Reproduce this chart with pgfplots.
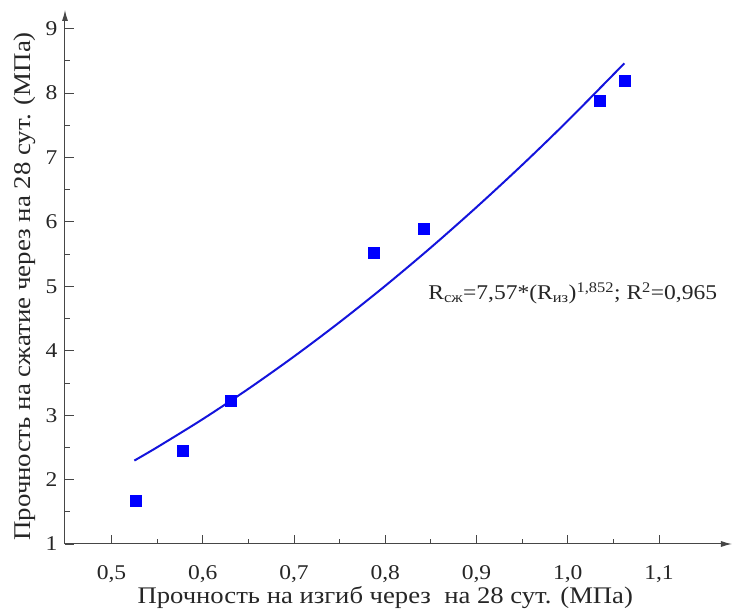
\documentclass[border=0pt]{standalone}
\usepackage{fontspec}
\setmainfont{Liberation Serif}[FakeStretch=1.12]
\usepackage{pgfplots}
\pgfplotsset{compat=1.18}
\usetikzlibrary{arrows.meta}

\definecolor{ptblue}{RGB}{0,0,255}
\definecolor{fitblue}{RGB}{20,20,220}
\definecolor{axgray}{RGB}{70,70,70}

\begin{document}
\begin{tikzpicture}
% page = 732 x 613, axis origin at image pixel (65,544)
\path[use as bounding box] (-65pt,-69pt) rectangle (667pt,544pt);
\begin{axis}[
    at={(0pt,0pt)}, anchor=origin,
    scale only axis,
    width=667pt, height=534pt,
    xmin=0.449, xmax=1.18,
    ymin=1, ymax=9.29,
    axis lines=left,
    axis line style={axgray, line width=1pt, -{Latex[length=11pt,width=6pt]}},
    tick align=inside,
    major tick length=9pt,
    minor tick length=5pt,
    tick style={axgray, line width=0.9pt},
    xtick={0.5,0.6,...,1.1},
    ytick={1,2,...,9},
    minor x tick num=1,
    minor y tick num=1,
    /pgf/number format/assume math mode=true,
    /pgf/number format/use comma,
    xticklabel style={/pgf/number format/fixed, /pgf/number format/fixed zerofill, /pgf/number format/precision=1, yshift=-18pt},
    yticklabel style={xshift=-4pt},
    tick label style={font=\fontsize{21}{21}\selectfont, text=black!85},
    clip=false,
]
\addplot[only marks, mark=square*, mark size=5.5pt, mark options={draw=ptblue, fill=ptblue}] coordinates {
    (0.526, 1.67)
    (0.578, 2.45)
    (0.631, 3.22)
    (0.787, 5.52)
    (0.842, 5.90)
    (1.035, 7.88)
    (1.062, 8.20)
};
\addplot[fitblue, line width=2pt, smooth] coordinates {
    (0.525, 2.295)
    (0.55, 2.502)
    (0.60, 2.939)
    (0.65, 3.409)
    (0.70, 3.911)
    (0.75, 4.444)
    (0.80, 5.008)
    (0.85, 5.603)
    (0.90, 6.229)
    (0.95, 6.884)
    (1.00, 7.570)
    (1.062, 8.462)
};
\node[anchor=base west, font=\fontsize{21}{21}\selectfont, text=black!85, inner sep=0pt] at (axis cs:0.847,4.79)
    {R\textsubscript{сж}=7,57*(R\textsubscript{из})\textsuperscript{1,852}; R\textsuperscript{2}=0,965};
\node[font=\fontsize{23.8}{24}\selectfont, text=black!85] at ([yshift=-54pt]axis cs:0.80,1)
    {Прочность на изгиб через\ \ на 28 сут. (МПа)};
\node[font=\fontsize{24}{24}\selectfont, text=black!85, rotate=90] at ([xshift=-40pt]axis cs:0.449,5.0)
    {Прочность на сжатие через на 28 сут. (МПа)};
\end{axis}
\end{tikzpicture}
\end{document}
